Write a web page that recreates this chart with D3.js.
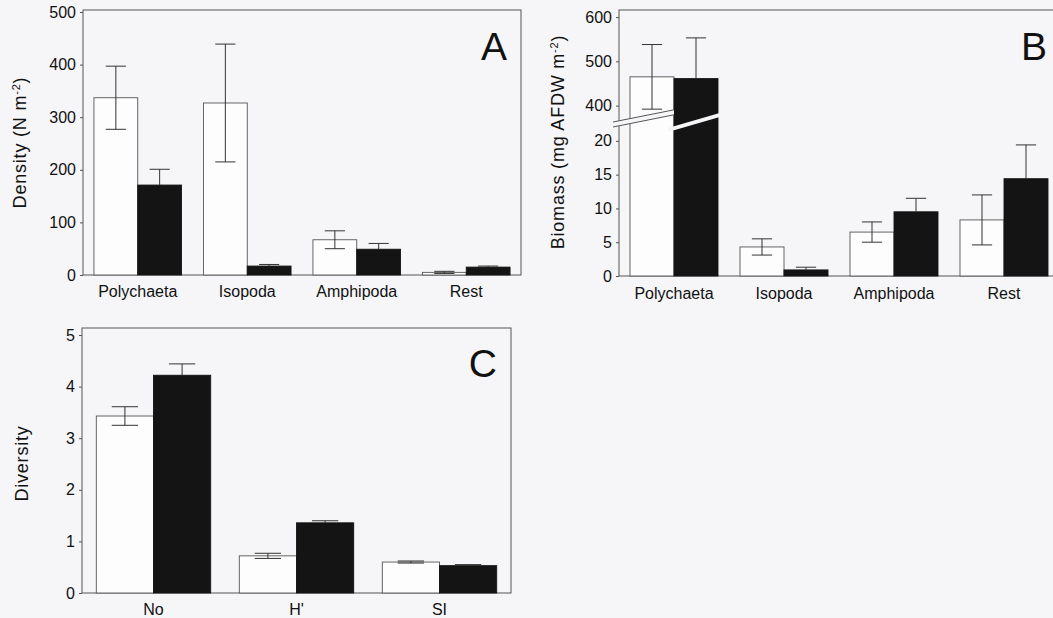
<!DOCTYPE html>
<html>
<head>
<meta charset="utf-8">
<script src="https://cdn.jsdelivr.net/npm/d3@7"></script>
<style>
  body { margin: 0; background: #f6f6f8; }
  svg { display: block; font-family: "Liberation Sans", Arial, sans-serif; }
  .tick text { font-size: 16px; fill: #111; }
  .tick line { stroke: #555; }
</style>
</head>
<body>
<script>
// Data
var taxa = ["Polychaeta", "Isopoda", "Amphipoda", "Rest"];
var indices = ["No", "H'", "SI"];

var densityOpen = [337, 327, 67, 5];
var densityOpenErr = [60, 112, 17, 2];
var densityFilled = [171, 17, 49, 15];
var densityFilledErr = [30, 3, 11, 2];

var biomassOpen = [465, 4.3, 6.5, 8.3];
var biomassOpenErr = [73, 1.2, 1.5, 3.7];
var biomassFilled = [461, 0.9, 9.5, 14.4];
var biomassFilledErr = [92, 0.4, 2.0, 5.0];

var diversityOpen = [3.43, 0.72, 0.60];
var diversityOpenErr = [0.18, 0.05, 0.02];
var diversityFilled = [4.22, 1.36, 0.53];
var diversityFilledErr = [0.22, 0.04, 0.02];

var densityTicks = [0, 100, 200, 300, 400, 500];
var biomassLowTicks = [0, 5, 10, 15, 20];
var biomassHighTicks = [400, 500, 600];
var diversityTicks = [0, 1, 2, 3, 4, 5];

var bg = "#f6f6f8";

var svg = d3.select("body").append("svg")
  .attr("width", 1053)
  .attr("height", 618);

function rows(cats, open, openErr, filled, filledErr) {
  var out = [];
  cats.forEach(function(c, i) {
    out.push({cat: c, grp: "open", v: open[i], e: openErr[i]});
    out.push({cat: c, grp: "filled", v: filled[i], e: filledErr[i]});
  });
  return out;
}

// draws one panel; y is a function value -> pixel
function drawPanel(box, cats, data, y, yAxes, title, letter) {
  var g = svg.append("g");

  var x = d3.scaleBand().domain(cats)
    .range([box.left, box.right])
    .paddingInner(0.2).paddingOuter(0.1);
  var xs = d3.scaleBand().domain(["open", "filled"])
    .range([0, x.bandwidth()]);

  // frame
  g.append("rect")
    .attr("x", box.left).attr("y", box.top)
    .attr("width", box.right - box.left)
    .attr("height", box.bottom - box.top)
    .attr("fill", "none")
    .attr("stroke", "#555")
    .attr("stroke-width", 1);

  // bars
  g.selectAll(".bar").data(data).enter().append("rect")
    .attr("x", d => x(d.cat) + xs(d.grp))
    .attr("y", d => y(d.v))
    .attr("width", xs.bandwidth())
    .attr("height", d => y(0) - y(d.v))
    .attr("fill", d => d.grp == "open" ? "#fdfdfd" : "#141414")
    .attr("stroke", d => d.grp == "open" ? "#555" : "#141414")
    .attr("stroke-width", 0.9);

  // error bars (filled bars hide the lower half)
  var cap = xs.bandwidth() * 0.23;
  var cx = d => x(d.cat) + xs(d.grp) + xs.bandwidth() / 2;
  var lo = d => d.grp == "open" ? y(Math.max(0, d.v - d.e)) : y(d.v);
  var eb = g.selectAll(".err").data(data).enter().append("g")
    .attr("stroke", "#333").attr("stroke-width", 1);
  eb.append("line")
    .attr("x1", cx).attr("x2", cx)
    .attr("y1", d => y(d.v + d.e))
    .attr("y2", lo);
  eb.append("line")
    .attr("x1", d => cx(d) - cap)
    .attr("x2", d => cx(d) + cap)
    .attr("y1", d => y(d.v + d.e))
    .attr("y2", d => y(d.v + d.e));
  eb.filter(d => d.grp == "open").append("line")
    .attr("x1", d => cx(d) - cap)
    .attr("x2", d => cx(d) + cap)
    .attr("y1", lo)
    .attr("y2", lo);

  // axes
  yAxes.forEach(function(a) {
    g.append("g")
      .attr("transform", `translate(${box.left},0)`)
      .call(d3.axisLeft(a.scale).tickValues(a.ticks).tickFormat(d3.format("d"))
        .tickSize(3).tickPadding(4))
      .call(s => s.select(".domain").remove());
  });

  g.append("g")
    .attr("transform", `translate(0,${box.bottom})`)
    .call(d3.axisBottom(x).tickSize(0).tickPadding(box.labelPad))
    .call(s => s.select(".domain").remove());

  // y title
  var t = g.append("text")
    .attr("transform", `translate(${box.titleX},${(box.top + box.bottom) / 2 + box.titleDy}) rotate(-90)`)
    .attr("text-anchor", "middle")
    .attr("dy", "0.35em")
    .attr("font-size", 18)
    .attr("letter-spacing", "0.8px")
    .attr("fill", "#111");
  t.append("tspan").text(title[0]);
  if (title.length > 1) {
    t.append("tspan").attr("font-size", 11).attr("baseline-shift", "super").text(title[1]);
    t.append("tspan").text(title[2]);
  }

  // panel letter
  g.append("text")
    .attr("x", box.right - box.letterInset)
    .attr("y", box.top + box.letterY)
    .attr("text-anchor", "end")
    .attr("font-size", 39)
    .attr("fill", "#111")
    .text(letter);

  return {g: g, x: x, xs: xs};
}

// Panel A
var boxA = {left: 83, right: 521, top: 10, bottom: 275, labelPad: 11, titleX: 20, titleDy: 0,
  letterInset: 14, letterY: 50};
var yA = d3.scaleLinear().domain([0, 500]).range([275, 12]);
drawPanel(boxA, taxa, rows(taxa, densityOpen, densityOpenErr, densityFilled, densityFilledErr),
  yA, [{scale: yA, ticks: densityTicks}], ["Density (N m", "-2", ")"], "A");

// Panel B: broken axis
var yLow = d3.scaleLinear().domain([0, 22.2]).range([276, 126]);
var yHigh = d3.scaleLinear().domain([372, 616]).range([118, 10]);
function yB(v) { return v <= 22.2 ? yLow(v) : yHigh(v); }
var boxB = {left: 619, right: 1059, top: 10, bottom: 276, labelPad: 12, titleX: 558, titleDy: -1,
  letterInset: 12, letterY: 50};
var pB = drawPanel(boxB, taxa, rows(taxa, biomassOpen, biomassOpenErr, biomassFilled, biomassFilledErr),
  yB, [{scale: yLow, ticks: biomassLowTicks}, {scale: yHigh, ticks: biomassHighTicks}],
  ["Biomass (mg AFDW m", "-2", ")"], "B");

// break marks
var breakY = (yHigh.range()[0] + yLow.range()[1]) / 2;
var wx0 = boxB.left - 6;
var wx1 = pB.x("Polychaeta") + pB.xs("filled");
var slope = 0.2;
pB.g.append("polygon")
  .attr("points", [[wx0, breakY + 5], [wx1, breakY + 5 - slope * (wx1 - wx0)],
    [wx1, breakY - slope * (wx1 - wx0)], [wx0, breakY]].join(" "))
  .attr("fill", bg);
[0, 5].forEach(function(o) {
  pB.g.append("line")
    .attr("x1", wx0).attr("y1", breakY + o)
    .attr("x2", wx1).attr("y2", breakY + o - slope * (wx1 - wx0))
    .attr("stroke", "#555").attr("stroke-width", 1);
});
var bx0 = wx1 - 6;
var bx1 = wx1 + pB.xs.bandwidth() + 6;
var bs = 0.29;
pB.g.append("polygon")
  .attr("points", [[bx0, breakY + 10], [bx1, breakY + 10 - bs * (bx1 - bx0)],
    [bx1, breakY + 6 - bs * (bx1 - bx0)], [bx0, breakY + 6]].join(" "))
  .attr("fill", bg);

// Panel C
var boxC = {left: 82, right: 511, top: 328, bottom: 593, labelPad: 11, titleX: 22, titleDy: 3,
  letterInset: 14, letterY: 49};
var yC = d3.scaleLinear().domain([0, 5]).range([593, 335]);
drawPanel(boxC, indices, rows(indices, diversityOpen, diversityOpenErr, diversityFilled, diversityFilledErr),
  yC, [{scale: yC, ticks: diversityTicks}], ["Diversity"], "C");
</script>
</body>
</html>
